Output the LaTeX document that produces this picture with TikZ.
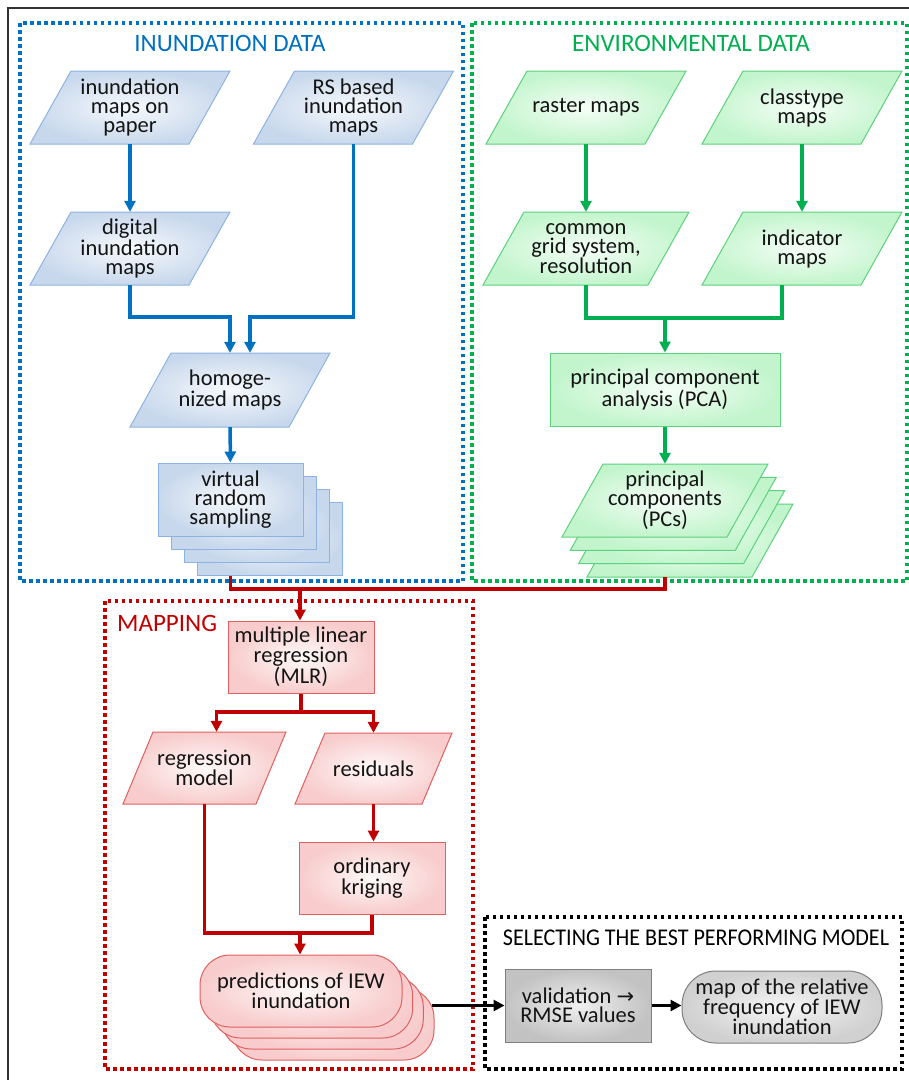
\documentclass[tikz,border=0pt]{standalone}
\usepackage{fontspec}
\setmainfont{Carlito}
\newfontfamily\condfont[FakeStretch=0.92]{Carlito}
\newfontfamily\symfont{DejaVu Sans}
\usetikzlibrary{arrows.meta,calc}

\definecolor{cblue}{HTML}{0070C0}
\definecolor{cgreen}{HTML}{00B050}
\definecolor{cred}{HTML}{C00000}
\definecolor{bfill}{HTML}{C8D8EC}
\definecolor{bedge}{HTML}{8DB3E2}
\definecolor{gfill}{HTML}{C2F5CC}
\definecolor{gedge}{HTML}{5CD17E}
\definecolor{rfill}{HTML}{F8CCCC}
\definecolor{redge}{HTML}{E06060}
\definecolor{kfill}{HTML}{C2C2C2}
\definecolor{lkfill}{HTML}{D0D0D0}
\definecolor{kedge}{HTML}{7F7F7F}

% parallelogram: style, centre x, centre y, side length, height, slant
\newcommand\pgram[6]{\path[#1]
  ({#2-(#4)/2-(#6)/2},{#3+(#5)/2}) -- ({#2+(#4)/2-(#6)/2},{#3+(#5)/2}) --
  ({#2+(#4)/2+(#6)/2},{#3-(#5)/2}) -- ({#2-(#4)/2+(#6)/2},{#3-(#5)/2}) -- cycle;}

\begin{document}
\begin{tikzpicture}[x=1pt,y=-1pt,
  txt/.style={font=\fontsize{22.5}{19}\selectfont, align=center, text=black!92, inner sep=0pt},
  rect/.style={txt, rectangle, minimum height=73pt},
  bluen/.style={draw=bedge, line width=1pt, inner color=bfill!15, outer color=bfill},
  greenn/.style={draw=gedge, line width=1pt, inner color=gfill!15, outer color=gfill},
  redn/.style={draw=redge, line width=1pt, inner color=rfill!12, outer color=rfill},
  grayn/.style={draw=kedge, line width=1pt, inner color=kfill!25, outer color=kfill},
  lgrayn/.style={draw=kedge, line width=1pt, inner color=lkfill!20, outer color=lkfill},
  tip/.style={-{Triangle[length=11pt,width=11pt]}},
  bline/.style={draw=cblue, line width=3.5pt},
  gline/.style={draw=cgreen, line width=3.5pt},
  rline/.style={draw=cred, line width=3.5pt},
  kline/.style={draw=black, line width=3.5pt},
  dotbox/.style={line width=3.5pt, dash pattern=on 3.5pt off 3.5pt},
  title/.style={font=\fontsize{25}{25}\selectfont, inner sep=0pt}
]
\useasboundingbox (0,0) rectangle (909,1080);
\fill[white] (0,0) rectangle (909,1080);
\draw[line width=1.5pt, black!80] (8,1080) -- (8,8) -- (909,8);

% group boxes
\draw[dotbox, cblue] (20,23) rectangle (463,581);
\draw[dotbox, cgreen] (472,23) rectangle (907,581);
\draw[dotbox, cred] (105,601) rectangle (473,1069);
\draw[dotbox, black] (485,917) rectangle (902,1069);

% titles
\node[title, text=cblue] (t1) at (230,43) {INUNDATION DATA};
\node[title, text=cgreen] (t2) at (691,43) {ENVIRONMENTAL DATA};
\node[title, text=cred, anchor=west] (t3) at (117,623) {MAPPING};
\node[inner sep=0pt, font=\condfont\fontsize{24}{24}\selectfont] (t4) at (696,938) {SELECTING THE BEST PERFORMING MODEL};

% inundation data
\pgram{bluen}{130}{107.5}{159}{73}{41}
\node[rect, minimum width=159pt] (paper) at (130,107.5) {inundation\\maps on\\paper};
\pgram{bluen}{353.5}{107.5}{159}{73}{41}
\node[rect, minimum width=159pt] (rs) at (353.5,107.5) {RS based\\inundation\\maps};
\pgram{bluen}{130}{248.5}{159}{73}{41}
\node[rect, minimum width=159pt] (digital) at (130,248.5) {digital\\inundation\\maps};
\pgram{bluen}{230}{390}{159}{74}{41}
\node[rect, minimum width=159pt, minimum height=74pt] (homog) at (230,390) {homoge-\\nized maps};
\node[rect, bluen, minimum width=145pt] (vrs3) at (269.5,538.5) {};
\node[rect, bluen, minimum width=145pt] (vrs2) at (256.5,525.5) {};
\node[rect, bluen, minimum width=145pt] (vrs1) at (243.5,512.5) {};
\node[rect, bluen, minimum width=145pt] (vrs) at (230.5,499.5) {virtual\\random\\sampling};

% environmental data
\pgram{greenn}{586}{107.5}{159}{73}{41}
\node[rect, minimum width=159pt] (raster) at (586,107.5) {raster maps};
\pgram{greenn}{802}{107.5}{159}{73}{41}
\node[rect, minimum width=159pt] (classtype) at (802,107.5) {classtype\\maps};
\pgram{greenn}{586}{248.5}{165}{73}{41}
\node[rect, minimum width=165pt] (common) at (586,248.5) {common\\grid system,\\resolution};
\pgram{greenn}{802}{248.5}{159}{73}{41}
\node[rect, minimum width=159pt] (indicator) at (802,248.5) {indicator\\maps};
\node[rect, greenn, minimum width=230pt] (pca) at (665,389.5) {principal component\\analysis (PCA)};
\pgram{greenn}{690}{540.5}{165}{73}{41}
\pgram{greenn}{681.6}{527.2}{165}{73}{41}
\pgram{greenn}{673.3}{513.8}{165}{73}{41}
\pgram{greenn}{665}{500.5}{165}{73}{41}
\node[rect, minimum width=165pt] (pcs) at (665,500.5) {principal\\components\\(PCs)};
\coordinate (pcsbot) at (665,577);

% mapping
\node[rect, redn, minimum width=146pt, minimum height=72pt] (mlr) at (301,657) {multiple linear\\regression\\(MLR)};
\pgram{redn}{204.5}{768}{133}{72}{30}
\node[rect, minimum width=133pt, minimum height=72pt] (regmodel) at (204.5,768) {regression\\model};
\pgram{redn}{373.5}{768.5}{127}{71}{30}
\node[rect, minimum width=127pt, minimum height=71pt] (residuals) at (373.5,768.5) {residuals};
\node[rect, redn, minimum width=146pt, minimum height=72pt] (kriging) at (372,878) {ordinary\\kriging};
\node[rect, redn, rounded corners=30pt, minimum width=202pt, minimum height=72pt] (pred3) at (333,1024) {};
\node[rect, redn, rounded corners=30pt, minimum width=202pt, minimum height=72pt] (pred2) at (322.3,1013) {};
\node[rect, redn, rounded corners=30pt, minimum width=202pt, minimum height=72pt] (pred1) at (311.7,1002) {};
\node[rect, redn, rounded corners=30pt, minimum width=202pt, minimum height=72pt] (pred) at (301,991) {predictions of IEW\\inundation};

% selecting
\node[rect, grayn, minimum width=146pt] (val) at (578,1005.5) {validation {\symfont\fontsize{21}{19}\selectfont →}\\RMSE values};
\node[rect, lgrayn, rounded corners=34pt, minimum width=200pt, minimum height=72pt] (map) at (782,1007) {map of the relative\\frequency of IEW\\inundation};

% blue connectors
\coordinate (jb) at (0,317);
\draw[bline, tip] (paper) -- (digital);
\draw[bline, tip] (digital.south) -- (digital.south |- jb) -| (homog.north);
\draw[bline, tip] (rs.south) -- (rs.south |- jb) -| ($(homog.north)+(20,0)$);
\draw[bline, tip] (homog) -- (vrs);

% green connectors
\coordinate (jg) at (0,318);
\draw[gline, tip] (raster) -- (common);
\draw[gline, tip] (classtype) -- (indicator);
\draw[gline] (common.south) -- (common.south |- jg) -- ($(indicator.south |- jg)+(-20,0)$) -- ($(indicator.south)+(-20,0)$);
\draw[gline, tip] (pca.north |- jg) -- (pca.north);
\draw[gline, tip] (pca) -- (pcs);

% red connectors
\coordinate (jr) at (0,589);
\coordinate (jm) at (0,712);
\coordinate (jk) at (0,933);
\draw[rline] (vrs.center |- vrs3.south) -- (vrs.center |- jr) -- (pcsbot |- jr) -- (pcsbot);
\draw[rline, tip] ($(mlr.north |- jr)+(-1,0)$) -- ($(mlr.north)+(-1,0)$);
\draw[rline] (mlr.south) -- (mlr.south |- jm);
\draw[rline, tip] (mlr.south |- jm) -| ($(regmodel.north)+(12,0)$);
\draw[rline, tip] (mlr.south |- jm) -| (residuals.north);
\draw[rline, tip] (residuals.south) -- (residuals.south |- kriging.north);
\draw[rline] (regmodel.south) -- (regmodel.south |- jk) -- (kriging.south |- jk) -- (kriging.south);
\draw[rline, tip] ($(pred.north |- jk)+(-1,0)$) -- ($(pred.north)+(-1,0)$);

% black connectors
\draw[kline, tip] ($(pred3.east |- val.west)+(-3,0)$) -- (val.west);
\draw[kline, tip] (val.east) -- (val.east -| map.west);
\end{tikzpicture}
\end{document}
